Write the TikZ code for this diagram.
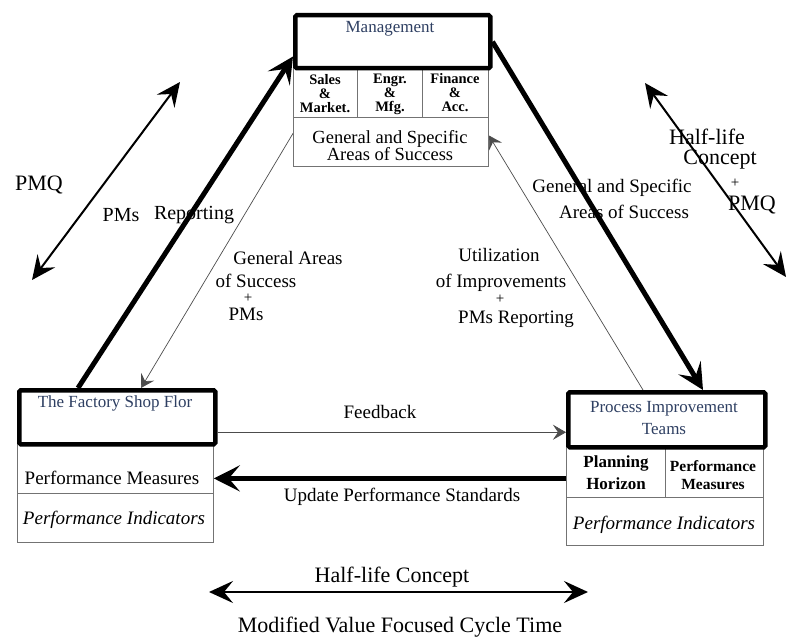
\documentclass[tikz,border=0pt]{standalone}
\usepackage{fontspec}
\setmainfont{Liberation Serif}
\usetikzlibrary{arrows.meta,calc}
\pgfdeclarelayer{bg}
\pgfsetlayers{bg,main}
\definecolor{ttlcol}{HTML}{2E3F62}
\begin{document}
\begin{tikzpicture}[x=1pt,y=-1pt,
  thickbox/.style={draw,line width=4.5pt,fill=white,inner sep=0pt,anchor=north west,rounded corners=1.5pt},
  subbox/.style={draw=black!55,line width=0.8pt,fill=white,inner sep=0pt,anchor=north west},
  txt/.style={inner sep=0pt,align=center,font=\fontsize{19}{19}\selectfont},
  bigtxt/.style={inner sep=0pt,align=center,font=\fontsize{22}{23}\selectfont},
  plus/.style={inner sep=0pt,font=\fontsize{15}{15}\selectfont},
  titletxt/.style={inner sep=0pt,align=center,text=ttlcol,font=\fontsize{17}{22}\selectfont},
  smallbold/.style={inner sep=0pt,align=center,font=\fontsize{14.5}{14}\selectfont\bfseries},
  thickarrow/.style={line width=5pt,-{Stealth[length=26pt,width=26pt,inset=11pt]}},
  dblarrow/.style={line width=2pt,{Stealth[length=24pt,width=22pt,inset=9pt]}-{Stealth[length=24pt,width=22pt,inset=9pt]}},
  thinarrow/.style={draw=black!70,line width=0.7pt,-{Stealth[length=13pt,width=15pt,inset=5pt]}}
]
\useasboundingbox (0,0) rectangle (788,639);

% Management block
\node[subbox,minimum width=64pt,minimum height=51pt] (sm) at (293,66) {};
\node[subbox,minimum width=65pt,minimum height=51pt] (em) at (357,66) {};
\node[subbox,minimum width=66pt,minimum height=51pt] (fa) at (422,66) {};
\node[subbox,minimum width=195pt,minimum height=49pt] (gen) at (293,117) {};
\node[thickbox,minimum width=195pt,minimum height=53pt] (mgmt) at (293,13) {};
\node[titletxt] (mgmtt) at (390,29) {Management};
\node[smallbold] (smt) at (325,94) {Sales\\\&\\Market.};
\node[smallbold] (emt) at (390,94) {Engr.\\\&\\Mfg.};
\node[smallbold] (fat) at (455,93) {Finance\\\&\\Acc.};
\node[txt,font=\fontsize{18.5}{17}\selectfont] (gent) at (390,146) {General and Specific\\Areas of Success};

% Factory block
\node[subbox,minimum width=196pt,minimum height=51pt] (fpm) at (17,442) {};
\node[subbox,minimum width=196pt,minimum height=49pt] (fpi) at (17,493) {};
\node[thickbox,minimum width=196pt,minimum height=54pt] (fsf) at (17,388) {};
\node[titletxt] (fsft) at (115,403) {The Factory Shop Flor};
\node[txt] (fpmt) at (112,478) {Performance Measures};
\node[txt,font=\fontsize{19}{19}\selectfont\itshape] (fpit) at (114,520) {Performance Indicators};

% Process block
\node[subbox,minimum width=99pt,minimum height=52pt] (ph) at (566,445) {};
\node[subbox,minimum width=98pt,minimum height=52pt] (ppm) at (665,445) {};
\node[subbox,minimum width=197pt,minimum height=48pt] (ppi) at (566,497) {};
\node[thickbox,minimum width=197pt,minimum height=55pt] (pit) at (566,390) {};
\node[titletxt] (pitt) at (664,418) {Process Improvement\\Teams};
\node[inner sep=0pt,align=center,font=\fontsize{17}{22}\selectfont\bfseries] (pht) at (616,473) {Planning\\Horizon};
\node[inner sep=0pt,align=center,font=\fontsize{15.5}{18}\selectfont\bfseries] (ppmt) at (713,475) {Performance\\Measures};
\node[txt,font=\fontsize{19}{19}\selectfont\itshape] (ppit) at (664,525) {Performance Indicators};

% free labels
\node[bigtxt] (pmq) at (39,185) {PMQ};
\node[txt,font=\fontsize{20}{20}\selectfont] (pms1) at (121,215) {PMs};
\node[txt,font=\fontsize{20}{20}\selectfont] (rep1) at (194,215) {Reporting};
\node[txt] (ga1) at (288,258) {General Areas};
\node[txt] (ga2) at (256,281) {of Success};
\node[plus] (ga3) at (248,298) {+};
\node[txt] (ga4) at (246,314) {PMs};
\node[txt] (ut1) at (499,255) {Utilization};
\node[txt] (ut2) at (501,283) {of Improvements};
\node[plus] (ut3) at (500,299) {+};
\node[txt] (ut4) at (516,319) {PMs Reporting};
\node[txt] (gs1) at (612,188) {General and Specific};
\node[txt] (gs2) at (624,212) {Areas of Success};
\node[bigtxt] (hl1) at (707,137) {Half-life};
\node[bigtxt] (hl2) at (720,160) {Concept};
\node[plus] (hl3) at (735,183) {+};
\node[bigtxt] (hl4) at (752,205) {PMQ};
\node[txt] (fb) at (380,412) {Feedback};
\node[txt] (ups) at (402,497) {Update Performance Standards};
\node[bigtxt] (hlc) at (392,577) {Half-life Concept};
\node[bigtxt] (mvf) at (400,627) {Modified Value Focused Cycle Time};

% free ends of the double arrows
\coordinate (pmqA) at (32,280);
\coordinate (pmqB) at (180,82);
\coordinate (hlA) at (645,83);
\coordinate (hlB) at (786,277);
\coordinate (botA) at (209,592);
\coordinate (botB) at (588,592);

\begin{pgfonlayer}{bg}
\draw[thickarrow] ([xshift=61pt]fsf.north west) -- ([yshift=14pt]mgmt.south west);
\draw[thickarrow] (mgmt.east) -- ([xshift=137pt]pit.north west);
\draw[thinarrow] ([yshift=8.5pt]gen.west) -- ([xshift=124pt]fsf.north west);
\draw[thinarrow] ([xshift=77pt]pit.north west) -- ([yshift=6.5pt]gen.east);
\draw[thinarrow] ([yshift=-15pt]fsf.east) coordinate (fbs) -- (fbs -| pit.west);
\draw[thickarrow] ([yshift=-7pt]ph.west) coordinate (ups0) -- (ups0 -| fpm.east);
\end{pgfonlayer}
\draw[dblarrow] (pmqA) -- (pmqB);
\draw[dblarrow] (hlA) -- (hlB);
\draw[dblarrow] (botA) -- (botB);
\end{tikzpicture}
\end{document}
